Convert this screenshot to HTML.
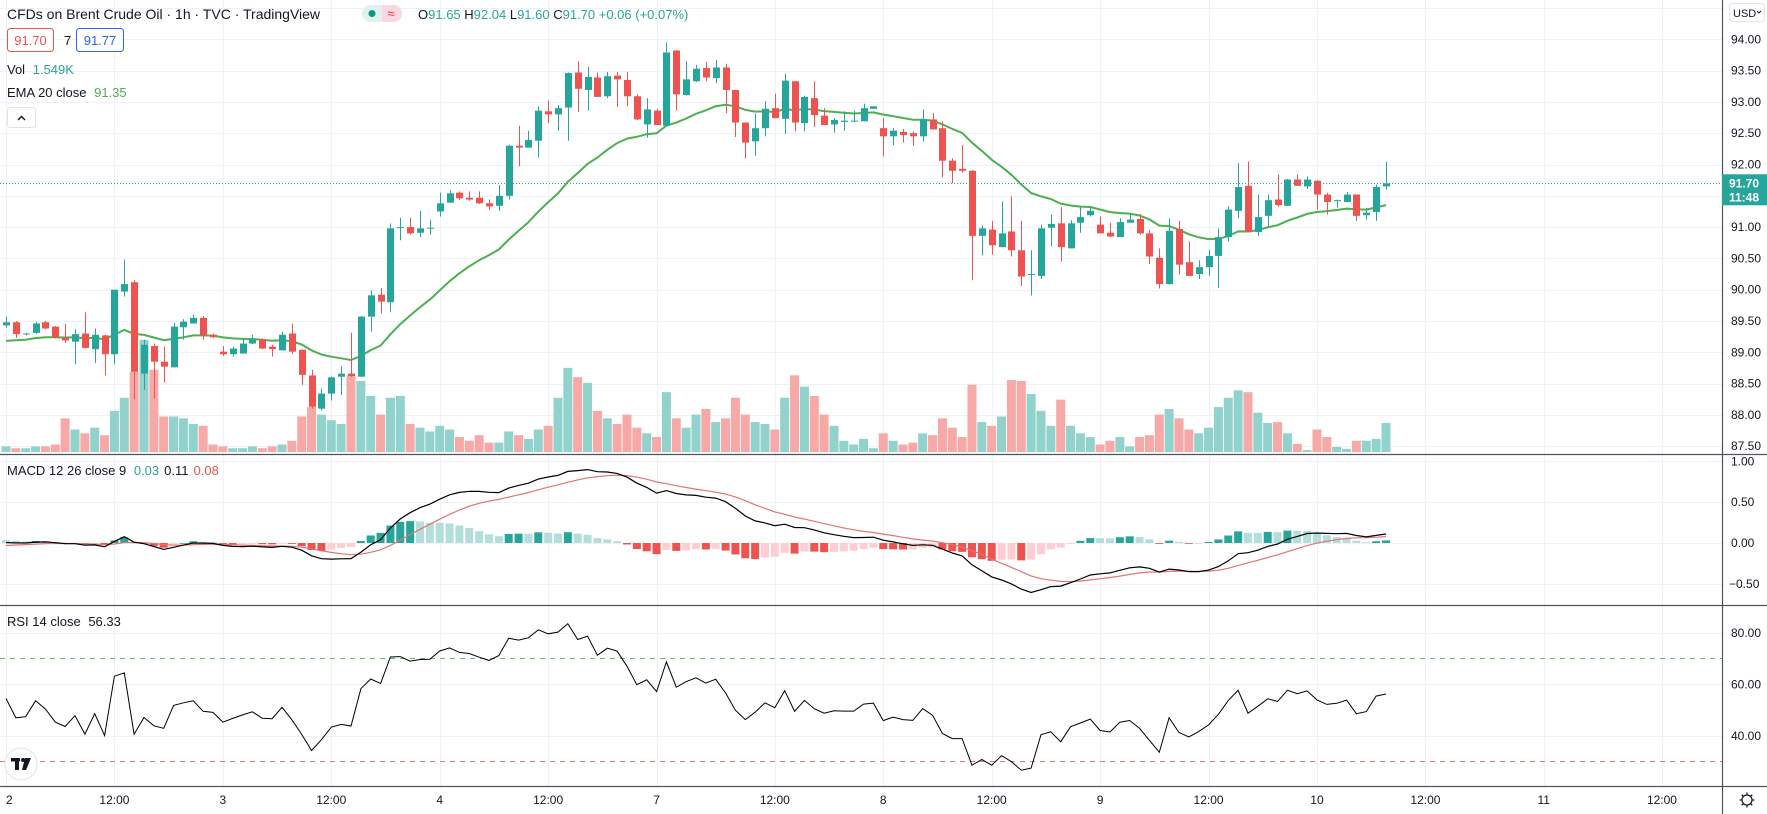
<!DOCTYPE html>
<html><head><meta charset="utf-8">
<style>
html,body{margin:0;padding:0;background:#fff;}
body{width:1767px;height:814px;overflow:hidden;font-family:"Liberation Sans",sans-serif;}
svg{display:block;}
</style></head>
<body>
<svg id="chart" xmlns="http://www.w3.org/2000/svg" width="1767" height="814" viewBox="0 0 1767 814" font-family="Liberation Sans, sans-serif">
<rect x="0" y="0" width="1767" height="814" fill="#ffffff"/>
<g id="grid"></g>
<g id="volume"></g>
<g id="ema"></g>
<g id="candles"></g>
<g id="macd"></g>
<g id="rsi"></g>
<g id="axes"></g>
<g id="legend">
  <text x="7" y="19" font-size="14" fill="#131722">CFDs on Brent Crude Oil · 1h · TVC · TradingView</text>
  <g>
    <rect x="362" y="5" width="40" height="17" rx="8.5" fill="#e0f2ef"/>
    <path d="M382 5 h11.5 a8.5 8.5 0 0 1 0 17 h-11.5 z" fill="#fbd7e2"/>
    <circle cx="372" cy="13.5" r="3.5" fill="#089981"/>
    <text x="391" y="18" font-size="13" fill="#f23645" text-anchor="middle">≈</text>
  </g>
  <text x="418" y="19" font-size="13" fill="#26a69a"><tspan fill="#131722">O</tspan>91.65 <tspan fill="#131722">H</tspan>92.04 <tspan fill="#131722">L</tspan>91.60 <tspan fill="#131722">C</tspan>91.70 +0.06 (+0.07%)</text>
  <g>
    <rect x="7.5" y="28.5" width="46" height="23" rx="3" fill="#fff" stroke="#ef5350"/>
    <text x="30.5" y="45" font-size="13" fill="#ef5350" text-anchor="middle">91.70</text>
  </g>
  <text x="64" y="45" font-size="13" fill="#131722">7</text>
  <g>
    <rect x="76.5" y="28.5" width="47" height="23" rx="3" fill="#fff" stroke="#2962ff"/>
    <text x="100" y="45" font-size="13" fill="#2962ff" text-anchor="middle">91.77</text>
  </g>
  <text x="7" y="74" font-size="13" fill="#131722">Vol <tspan fill="#26a69a" dx="4">1.549K</tspan></text>
  <text x="7" y="97" font-size="13" fill="#131722">EMA 20 close <tspan fill="#4caf50" dx="4">91.35</tspan></text>
  <g>
    <rect x="7.5" y="107.5" width="28" height="20" rx="3" fill="#fff" stroke="#e0e3eb"/>
    <path d="M18 120 l3.5 -3.5 l3.5 3.5" fill="none" stroke="#131722" stroke-width="1.4"/>
  </g>
  <text x="7" y="475" font-size="13" fill="#131722">MACD 12 26 close 9 <tspan fill="#26a69a" dx="4">0.03</tspan><tspan fill="#131722" dx="5">0.11</tspan><tspan fill="#ef5350" dx="5">0.08</tspan></text>
  <text x="7" y="626" font-size="13" fill="#131722">RSI 14 close <tspan dx="4">56.33</tspan></text>
  <g>
    <circle cx="21" cy="764" r="16" fill="#fff" stroke="#e0e3eb"/>
    <rect x="11" y="758" width="9" height="3.5" fill="#131722"/>
    <rect x="15" y="758" width="4" height="12" fill="#131722"/>
    <circle cx="23" cy="760" r="2" fill="#131722"/>
    <path d="M25 758 h6 l-5 12 h-4 z" fill="#131722"/>
  </g>
</g>
</svg>
<script>
// ---------- DATA ----------
const opens = [89.43,89.48,89.29,89.31,89.48,89.41,89.23,89.17,89.30,89.05,89.27,88.97,89.97,90.12,88.66,89.10,88.85,88.76,89.40,89.46,89.55,89.28,89.01,88.97,88.98,89.14,89.21,89.09,89.03,89.30,89.04,88.63,88.10,88.34,88.61,88.66,88.61,89.57,89.92,89.80,90.99,91.00,90.91,90.98,91.25,91.39,91.55,91.47,91.47,91.38,91.34,91.50,92.30,92.27,92.38,92.85,92.80,92.91,93.47,93.19,93.39,93.09,93.42,93.35,93.09,92.64,92.86,92.62,93.82,93.11,93.33,93.54,93.38,93.55,93.19,92.67,92.37,92.58,92.90,92.73,93.33,92.66,93.06,92.78,92.64,92.68,92.69,92.69,92.89,92.58,92.45,92.52,92.50,92.45,92.72,92.58,92.06,91.93,91.90,90.86,90.96,90.68,90.93,90.63,90.24,90.22,90.99,91.06,90.66,91.07,91.19,91.04,90.91,90.84,91.07,91.13,90.90,90.51,90.09,90.97,90.44,90.25,90.36,90.54,90.84,91.26,91.66,90.92,91.18,91.44,91.34,91.76,91.65,91.74,91.52,91.42,91.40,91.52,91.19,91.24,91.65];
const highs = [89.57,89.50,89.31,89.49,89.50,89.42,89.45,89.37,89.64,89.38,89.28,90.00,90.48,90.15,89.20,89.14,89.09,89.47,89.53,89.60,89.58,89.30,89.10,89.09,89.22,89.28,89.22,89.12,89.33,89.46,89.04,88.72,88.42,88.61,88.78,89.31,89.58,89.99,90.03,91.06,91.15,91.15,91.26,91.12,91.55,91.59,91.57,91.57,91.57,91.44,91.67,92.31,92.62,92.54,92.93,93.02,92.95,93.47,93.65,93.56,93.47,93.48,93.48,93.48,93.12,93.06,92.89,93.95,93.83,93.65,93.59,93.64,93.67,93.61,93.19,92.67,92.81,93.01,93.13,93.45,93.33,93.10,93.33,92.90,92.74,92.85,92.86,92.97,92.93,92.74,92.58,92.57,92.53,92.88,92.82,92.69,92.10,92.31,91.91,91.02,91.10,91.41,91.49,91.10,90.63,91.04,91.20,91.32,91.11,91.33,91.33,91.17,91.07,91.14,91.21,91.21,90.96,90.66,91.14,91.10,90.77,90.47,90.64,90.98,91.33,92.02,92.05,91.52,91.52,91.84,91.77,91.84,91.81,91.75,91.55,91.44,91.56,91.52,91.31,91.68,92.04];
const lows = [89.39,89.23,89.27,89.29,89.37,89.22,89.15,88.81,89.06,88.83,88.63,88.81,89.89,88.25,88.40,88.26,88.52,88.76,89.20,89.46,89.20,89.23,88.94,88.93,88.98,89.13,89.05,88.93,89.03,88.97,88.48,88.10,88.07,88.23,88.32,88.61,88.61,89.33,89.62,89.64,90.79,90.88,90.84,90.88,91.17,91.39,91.43,91.42,91.37,91.27,91.26,91.44,91.97,92.27,92.11,92.66,92.54,92.38,92.84,92.86,93.08,93.06,92.92,92.93,92.71,92.43,92.63,92.62,92.86,93.10,93.32,93.33,93.30,92.82,92.44,92.10,92.14,92.45,92.74,92.49,92.53,92.53,92.60,92.63,92.51,92.54,92.69,92.69,92.89,92.13,92.31,92.35,92.30,92.37,92.56,91.79,91.70,91.87,90.15,90.55,90.56,90.68,90.53,90.06,89.91,90.17,90.69,90.45,90.66,90.91,91.17,90.90,90.84,90.84,91.07,90.88,90.41,90.02,90.08,90.24,90.22,90.17,90.22,90.03,90.77,91.14,90.92,90.86,91.01,91.32,91.34,91.66,91.61,91.28,91.20,91.31,91.40,91.10,91.12,91.10,91.60];
const closes = [89.48,89.29,89.30,89.46,89.38,89.24,89.19,89.29,89.07,89.28,88.97,90.00,90.09,88.69,89.12,88.85,88.77,89.41,89.49,89.55,89.27,89.24,88.97,89.06,89.14,89.21,89.06,89.05,89.28,89.01,88.64,88.13,88.34,88.60,88.66,88.62,89.57,89.91,89.81,90.98,91.00,90.90,90.98,90.99,91.38,91.54,91.46,91.44,91.38,91.33,91.50,92.30,92.27,92.39,92.86,92.80,92.90,93.46,93.21,93.40,93.08,93.41,93.36,93.09,92.72,92.88,92.63,93.79,93.12,93.36,93.53,93.39,93.55,93.19,92.67,92.35,92.58,92.89,92.74,93.34,92.67,93.08,92.79,92.63,92.71,92.70,92.70,92.90,92.93,92.45,92.54,92.47,92.45,92.72,92.56,92.06,91.90,91.90,90.86,90.98,90.71,90.90,90.63,90.21,90.25,90.98,91.05,90.68,91.06,91.16,91.26,90.90,90.85,91.08,91.12,90.90,90.53,90.09,90.94,90.40,90.22,90.36,90.54,90.84,91.28,91.64,90.92,91.16,91.43,91.35,91.76,91.66,91.76,91.52,91.40,91.43,91.52,91.18,91.23,91.64,91.70];
const volumesK = [0.3,0.2,0.2,0.3,0.3,0.4,1.8,1.2,1.0,1.3,0.9,2.2,2.9,4.3,6.0,4.4,1.9,1.9,1.8,1.5,1.4,0.4,0.3,0.2,0.2,0.3,0.2,0.3,0.4,0.6,1.9,2.4,2.0,1.7,1.5,4.1,3.8,3.0,2.0,2.9,3.0,1.5,1.3,1.1,1.4,1.2,0.8,0.6,0.9,0.5,0.5,1.1,0.9,0.7,1.2,1.4,2.9,4.5,4.0,3.7,2.2,1.8,1.5,2.0,1.3,1.0,0.8,3.2,1.8,1.3,2.0,2.3,1.6,1.8,2.9,2.0,1.6,1.5,1.2,2.9,4.1,3.5,3.0,2.0,1.4,0.6,0.4,0.7,0.2,1.0,0.6,0.4,0.5,1.0,0.9,1.8,1.3,0.8,3.6,1.6,1.4,1.9,3.85,3.8,3.1,2.2,1.4,2.8,1.4,1.0,0.8,0.4,0.6,0.8,0.3,0.8,0.9,2.0,2.3,1.8,1.2,1.0,1.3,2.4,2.9,3.3,3.2,2.1,1.55,1.6,1.0,0.43,0.1,1.2,0.8,0.27,0.16,0.6,0.6,0.7,1.549];
const timeTickIndex = [0,11,22,33,44,55,66,78,89,100,111,122,133,144,156,168];
const timeTickLabels = ["2","12:00","3","12:00","4","12:00","7","12:00","8","12:00","9","12:00","10","12:00","11","12:00"];
const priceTicks = [87.5,88,88.5,89,89.5,90,90.5,91,91.5,92,92.5,93,93.5,94,94.5];
const macdTicks = [1.0,0.5,0.0,-0.5];
const rsiTicks = [80,60,40];
const lastPrice = 91.70;

// ---------- SCALES ----------
const NS = "http://www.w3.org/2000/svg";
const PLOT_R = 1722;
const xOf = i => 6 + 9.857 * i;
const yPrice = p => 39.3 + (94 - p) * 62.6;
const yVol = v => 452 - v * 18.7;
const yMacd = v => 543 - v * 81.7;
const yRsi = v => 684.3 - (v - 60) * 2.575;
const TEAL = "#26a69a", RED = "#ef5350";

function mk(tag, attrs, parent) {
  const el = document.createElementNS(NS, tag);
  for (const k in attrs) el.setAttribute(k, attrs[k]);
  parent.appendChild(el);
  return el;
}
const gGrid = document.getElementById("grid");
const gVol = document.getElementById("volume");
const gEma = document.getElementById("ema");
const gC = document.getElementById("candles");
const gM = document.getElementById("macd");
const gR = document.getElementById("rsi");
const gA = document.getElementById("axes");

// ---------- GRID ----------
timeTickIndex.forEach((ti, k) => {
  const x = Math.round(xOf(ti)) + 0.5;
  if (x > PLOT_R) return;
  const ln = mk("line", {x1: x, x2: x, y1: 0, y2: 786, stroke: "#eef1f6", "stroke-width": 1}, gGrid);
  
  
});
priceTicks.forEach(p => {
  const y = Math.round(yPrice(p)) + 0.5;
  const ln = mk("line", {x1: 0, x2: PLOT_R, y1: y, y2: y, stroke: "#eef1f6", "stroke-width": 1}, gGrid);
  
  
});
macdTicks.forEach(v => {
  const y = Math.round(yMacd(v)) + 0.5;
  const ln = mk("line", {x1: 0, x2: PLOT_R, y1: y, y2: y, stroke: "#eef1f6", "stroke-width": 1}, gGrid);
  
  
});
rsiTicks.forEach(v => {
  const y = Math.round(yRsi(v)) + 0.5;
  const ln = mk("line", {x1: 0, x2: PLOT_R, y1: y, y2: y, stroke: "#eef1f6", "stroke-width": 1}, gGrid);
  
  
});

// ---------- VOLUME ----------
volumesK.forEach((v, i) => {
  const up = closes[i] >= opens[i];
  const y = yVol(v);
  const r = mk("rect", {x: xOf(i) - 4.5, y: y, width: 9, height: 452 - y, fill: up ? "#92d2cc" : "#f7a9a7"}, gVol);
  
  
});

// ---------- EMA 20 ----------
let ema = 89.15; const emaPts = [];
closes.forEach((c, i) => { ema = ema + (2 / 21) * (c - ema); emaPts.push(xOf(i).toFixed(1) + "," + yPrice(ema).toFixed(1)); });
const emaLine = mk("polyline", {points: emaPts.join(" "), fill: "none", stroke: "#4caf50", "stroke-width": 2, "stroke-linejoin": "round"}, gEma);



// ---------- CANDLES ----------
closes.forEach((c, i) => {
  const o = opens[i], up = c >= o, col = up ? TEAL : RED;
  const x = Math.round(xOf(i));
  const g = mk("g", {}, gC);
  
  
  mk("line", {x1: x + 0.5, x2: x + 0.5, y1: yPrice(highs[i]), y2: yPrice(lows[i]), stroke: col, "stroke-width": 1}, g);
  const top = yPrice(Math.max(o, c)), bot = yPrice(Math.min(o, c));
  mk("rect", {x: x - 3, y: top, width: 7, height: Math.max(1, bot - top), fill: col}, g);
});

// last price dotted line
const lp = Math.round(yPrice(lastPrice)) + 0.5;
const lpl = mk("line", {x1: 0, x2: PLOT_R, y1: lp, y2: lp, stroke: TEAL, "stroke-width": 1, "stroke-dasharray": "1 2"}, gC);



// ---------- MACD ----------
let e12 = 89.30, e26 = 89.31, sig = -0.04, prevH = null;
const macdPts = [], sigPts = [];
closes.forEach((c, i) => {
  e12 = e12 + (2 / 13) * (c - e12);
  e26 = e26 + (2 / 27) * (c - e26);
  const m = e12 - e26;
  sig = sig + (2 / 10) * (m - sig);
  const h = m - sig;
  const ph = prevH === null ? h : prevH;
  let col;
  if (h >= 0) col = h > ph ? "#26a69a" : "#b2dfdb";
  else col = h < ph ? "#ef5350" : "#ffcdd2";
  prevH = h;
  const y0 = yMacd(0), y1 = yMacd(h);
  const b = mk("rect", {x: xOf(i) - 4, y: Math.min(y0, y1), width: 8, height: Math.max(0.8, Math.abs(y1 - y0)), fill: col}, gM);
  
  
  macdPts.push(xOf(i).toFixed(1) + "," + yMacd(m).toFixed(1));
  sigPts.push(xOf(i).toFixed(1) + "," + yMacd(sig).toFixed(1));
});
const sigLine = mk("polyline", {points: sigPts.join(" "), fill: "none", stroke: "#e57373", "stroke-width": 1.2}, gM);


const macdLine = mk("polyline", {points: macdPts.join(" "), fill: "none", stroke: "#000000", "stroke-width": 1.2}, gM);



// ---------- RSI ----------
const r70 = mk("line", {x1: 0, x2: PLOT_R, y1: yRsi(70), y2: yRsi(70), stroke: "#66bb6a", "stroke-width": 1, "stroke-dasharray": "5 5"}, gR);


const r30 = mk("line", {x1: 0, x2: PLOT_R, y1: yRsi(30), y2: yRsi(30), stroke: "#e57373", "stroke-width": 1, "stroke-dasharray": "5 5"}, gR);


let ag = 0.05, al = 0.045; const rsiPts = [];
closes.forEach((c, i) => {
  const prev = i === 0 ? opens[0] : closes[i - 1];
  const d = c - prev;
  ag = (ag * 13 + Math.max(d, 0)) / 14;
  al = (al * 13 + Math.max(-d, 0)) / 14;
  const rsi = al === 0 ? 100 : 100 - 100 / (1 + ag / al);
  rsiPts.push(xOf(i).toFixed(1) + "," + yRsi(rsi).toFixed(1));
});
const rsiLine = mk("polyline", {points: rsiPts.join(" "), fill: "none", stroke: "#000000", "stroke-width": 1}, gR);



// ---------- AXES ----------
mk("rect", {x: PLOT_R, y: 0, width: 45, height: 814, fill: "#ffffff"}, gA);
mk("rect", {x: 0, y: 787, width: PLOT_R, height: 27, fill: "#ffffff"}, gA);
[454.5, 605.5].forEach(y => {
  const s = mk("line", {x1: 0, x2: 1767, y1: y, y2: y, stroke: "#50535e", "stroke-width": 1.2}, gA);
  
  
});
const ta = mk("line", {x1: 0, x2: 1767, y1: 786.5, y2: 786.5, stroke: "#50535e", "stroke-width": 1.2}, gA);


const pa = mk("line", {x1: PLOT_R + 0.5, x2: PLOT_R + 0.5, y1: 0, y2: 814, stroke: "#50535e", "stroke-width": 1.2}, gA);



priceTicks.forEach(p => {
  if (p > 94.2) return;
  const t = mk("text", {x: 1731, y: yPrice(p) + 4, "font-size": 12, fill: "#131722"}, gA);
  t.textContent = p.toFixed(2);
  
  
});
macdTicks.forEach(v => {
  const t = mk("text", {x: v < 0 ? 1729 : 1731, y: yMacd(v) + 4, "font-size": 12, fill: "#131722"}, gA);
  t.textContent = (v < 0 ? "−" : "") + Math.abs(v).toFixed(2);
  
  
});
rsiTicks.forEach(v => {
  const t = mk("text", {x: 1731, y: yRsi(v) + 4, "font-size": 12, fill: "#131722"}, gA);
  t.textContent = v.toFixed(2);
  
  
});
timeTickIndex.forEach((ti, k) => {
  const x = xOf(ti);
  if (x > PLOT_R) return;
  const t = mk("text", {x: Math.max(x, 5), y: 804, "font-size": 12, fill: "#131722", "text-anchor": x < 10 ? "start" : "middle"}, gA);
  t.textContent = timeTickLabels[k];
  
  
});

// current price label
const cp = mk("g", {}, gA);


mk("rect", {x: PLOT_R, y: yPrice(lastPrice) - 9, width: 45, height: 31, fill: TEAL}, cp);
const cpt = mk("text", {x: 1744, y: yPrice(lastPrice) + 4, "font-size": 12, "font-weight": "bold", fill: "#fff", "text-anchor": "middle"}, cp);
cpt.textContent = lastPrice.toFixed(2);
const cpc = mk("text", {x: 1744, y: yPrice(lastPrice) + 18, "font-size": 12, "font-weight": "bold", fill: "#fff", "text-anchor": "middle"}, cp);
cpc.textContent = "11:48";

// currency button
const cur = mk("g", {}, gA);


mk("rect", {x: 1729.5, y: 3.5, width: 35, height: 18, rx: 3, fill: "#fff", stroke: "#e0e3eb"}, cur);
const curT = mk("text", {x: 1733, y: 17, "font-size": 11, fill: "#131722"}, cur);
curT.textContent = "USD";
mk("path", {d: "M1757 11 l2 2 l2 -2", fill: "none", stroke: "#131722", "stroke-width": 1}, cur);

// settings gear
const gear = mk("g", {}, gA);


mk("circle", {cx: 1747, cy: 800, r: 5, fill: "none", stroke: "#131722", "stroke-width": 1.2}, gear);
for (let a = 0; a < 8; a++) {
  const ang = a * Math.PI / 4;
  mk("line", {x1: 1747 + Math.cos(ang) * 5, y1: 800 + Math.sin(ang) * 5, x2: 1747 + Math.cos(ang) * 7.5, y2: 800 + Math.sin(ang) * 7.5, stroke: "#131722", "stroke-width": 1.2}, gear);
}
</script>
</body></html>
